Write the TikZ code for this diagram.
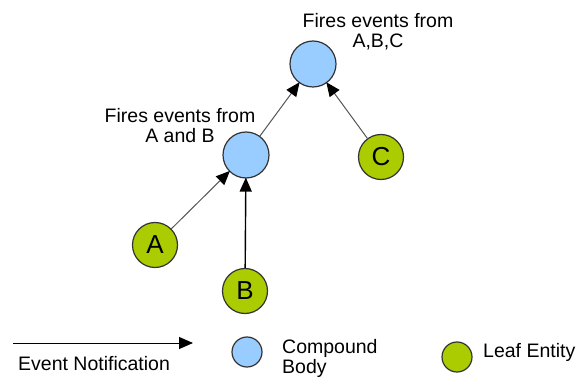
\documentclass[tikz,border=0pt]{standalone}
\usepackage{fontspec}
\setmainfont{Liberation Sans}
\usetikzlibrary{arrows.meta}
\definecolor{compblue}{HTML}{99CCFF}
\definecolor{leafgreen}{HTML}{AACC00}
\definecolor{edgegray}{HTML}{555555}
\tikzset{
  compound/.style={circle, draw=black!80, line width=1.2pt, fill=compblue, minimum size=46pt, inner sep=0pt},
  leaf/.style={circle, draw=black!80, line width=1.2pt, fill=leafgreen, minimum size=45pt, inner sep=0pt, font=\fontsize{26}{28}\selectfont},
  smallcomp/.style={compound, minimum size=30pt},
  smallleaf/.style={leaf, minimum size=30pt},
  lbl/.style={inner sep=0pt, font=\fontsize{19.5}{20}\selectfont},
  notify/.style={draw=edgegray, line width=1pt, -{Triangle[length=14pt,width=12pt,color=black]}, shorten >=-1pt},
}
\begin{document}
\begin{tikzpicture}[x=1pt,y=-1pt]
\useasboundingbox (0,0) rectangle (578,379);
\node[compound] (top) at (313,64) {};
\node[compound] (mid) at (246,155) {};
\node[leaf] (C) at (381,157) {C};
\node[leaf] (A) at (155,245) {A};
\node[leaf] (B) at (245,291) {B};
\node[lbl, align=center, anchor=north] (ltop) at (378,13) {Fires events from\\A,B,C};
\node[lbl, align=center, anchor=north] (lmid) at (180,108) {Fires events from\\A and B};
\draw[notify] (mid) -- (top);
\draw[notify] (C) -- (top);
\draw[notify] (A) -- (mid);
\draw[notify, draw=black, line width=1.4pt] (B) -- (mid);
% legend
\coordinate (ls) at (13,343);
\coordinate (le) at (193,343);
\draw[notify, draw=black, shorten >=0pt] (ls) -- (le);
\node[lbl, anchor=base west] (lev) at (18,370) {Event Notification};
\node[smallcomp] (lc) at (247,352) {};
\node[lbl, align=left, anchor=north west] (lct) at (282,339) {Compound\\Body};
\node[smallleaf] (ll) at (457,357) {};
\node[lbl, anchor=base west] (llt) at (483,357) {Leaf Entity};
\end{tikzpicture}
\end{document}
